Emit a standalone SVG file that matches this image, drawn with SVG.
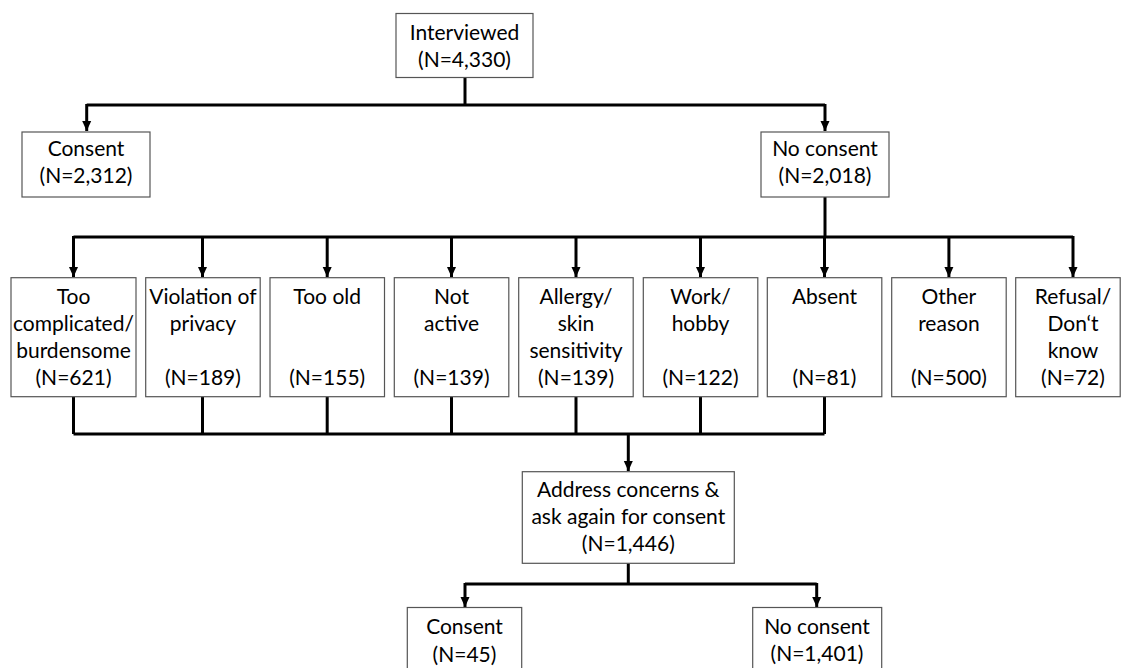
<svg xmlns="http://www.w3.org/2000/svg" width="1121" height="668" viewBox="0 0 1121 668">
<style>
.box{fill:#fff;stroke:#555;stroke-width:1.2}
.t{font-family:Lato,"Liberation Sans",sans-serif;font-size:21px;fill:#000;text-anchor:middle}
.c{fill:none;stroke:#000;stroke-width:3;stroke-linejoin:miter}
</style>
<defs>
<marker id="ah" markerUnits="userSpaceOnUse" markerWidth="10" markerHeight="10" viewBox="0 0 10 10" refX="10" refY="5" orient="auto">
<path d="M0,0.5 L10,5 L0,9.5 Z" fill="#000"/>
</marker>
</defs>
<rect width="1121" height="668" fill="#fff"/>
<g id="connectors">
<path class="c" d="M465,78 V105"/>
<path class="c" d="M86.7,105 H825"/>
<path class="c" d="M86.7,104 V131" marker-end="url(#ah)"/>
<path class="c" d="M825,104 V131" marker-end="url(#ah)"/>
<path class="c" d="M825,197 V237"/>
<path class="c" d="M73.5,237 H1073"/>
<path class="c" d="M73.5,236 V277" marker-end="url(#ah)"/>
<path class="c" d="M202.5,236 V277" marker-end="url(#ah)"/>
<path class="c" d="M327.2,236 V277" marker-end="url(#ah)"/>
<path class="c" d="M451.5,236 V277" marker-end="url(#ah)"/>
<path class="c" d="M576,236 V277" marker-end="url(#ah)"/>
<path class="c" d="M700.5,236 V277" marker-end="url(#ah)"/>
<path class="c" d="M824.5,236 V277" marker-end="url(#ah)"/>
<path class="c" d="M948.9,236 V277" marker-end="url(#ah)"/>
<path class="c" d="M1073,236 V277" marker-end="url(#ah)"/>
<path class="c" d="M73.5,397 V434 M202.5,397 V434 M327.2,397 V434 M451.5,397 V434 M576,397 V434 M700.5,397 V434 M824.5,397 V434"/>
<path class="c" d="M73.5,434 H824.5"/>
<path class="c" d="M628.3,433 V471" marker-end="url(#ah)"/>
<path class="c" d="M628.3,563 V584"/>
<path class="c" d="M465,584 H816.7"/>
<path class="c" d="M465,583 V607" marker-end="url(#ah)"/>
<path class="c" d="M816.7,583 V607" marker-end="url(#ah)"/>
</g>
<g id="interviewed"><rect class="box" x="396" y="13.5" width="137" height="64"/><text class="t" x="464.5" y="39.5">Interviewed</text><text class="t" x="464.5" y="66.5">(N=4,330)</text></g>
<g id="consent1"><rect class="box" x="22" y="132" width="128" height="65"/><text class="t" x="86" y="156">Consent</text><text class="t" x="86" y="183">(N=2,312)</text></g>
<g id="noconsent1"><rect class="box" x="761" y="132" width="128" height="65"/><text class="t" x="825" y="156">No consent</text><text class="t" x="825" y="183">(N=2,018)</text></g>
<g id="r1"><rect class="box" x="11" y="277.7" width="125" height="119"/><text class="t" x="73.5" y="304">Too</text><text class="t" x="73.5" y="331">complicated/</text><text class="t" x="73.5" y="358">burdensome</text><text class="t" x="73.5" y="385">(N=621)</text></g>
<g id="r2"><rect class="box" x="145.7" y="277.7" width="114.5" height="119"/><text class="t" x="202.9" y="304">Violation of</text><text class="t" x="202.9" y="331">privacy</text><text class="t" x="202.9" y="385">(N=189)</text></g>
<g id="r3"><rect class="box" x="270" y="277.7" width="114.5" height="119"/><text class="t" x="327.2" y="304">Too old</text><text class="t" x="327.2" y="385">(N=155)</text></g>
<g id="r4"><rect class="box" x="394.3" y="277.7" width="114.5" height="119"/><text class="t" x="451.5" y="304">Not</text><text class="t" x="451.5" y="331">active</text><text class="t" x="451.5" y="385">(N=139)</text></g>
<g id="r5"><rect class="box" x="518.7" y="277.7" width="114.5" height="119"/><text class="t" x="576" y="304">Allergy/</text><text class="t" x="576" y="331">skin</text><text class="t" x="576" y="358">sensitivity</text><text class="t" x="576" y="385">(N=139)</text></g>
<g id="r6"><rect class="box" x="643.3" y="277.7" width="114.5" height="119"/><text class="t" x="700.5" y="304">Work/</text><text class="t" x="700.5" y="331">hobby</text><text class="t" x="700.5" y="385">(N=122)</text></g>
<g id="r7"><rect class="box" x="767.3" y="277.7" width="114.5" height="119"/><text class="t" x="824.5" y="304">Absent</text><text class="t" x="824.5" y="385">(N=81)</text></g>
<g id="r8"><rect class="box" x="891.7" y="277.7" width="114.5" height="119"/><text class="t" x="948.9" y="304">Other</text><text class="t" x="948.9" y="331">reason</text><text class="t" x="948.9" y="385">(N=500)</text></g>
<g id="r9"><rect class="box" x="1015.7" y="277.7" width="104.5" height="119"/><text class="t" x="1073" y="304">Refusal/</text><text class="t" x="1073" y="331">Don‘t</text><text class="t" x="1073" y="358">know</text><text class="t" x="1073" y="385">(N=72)</text></g>
<g id="address"><rect class="box" x="522.3" y="471.7" width="212" height="91.6"/><text class="t" x="628.3" y="497">Address concerns &amp;</text><text class="t" x="628.3" y="524.3">ask again for consent</text><text class="t" x="628.3" y="551">(N=1,446)</text></g>
<g id="consent2"><rect class="box" x="407.3" y="607.5" width="114.4" height="70"/><text class="t" x="464.5" y="634">Consent</text><text class="t" x="464.5" y="661.5">(N=45)</text></g>
<g id="noconsent2"><rect class="box" x="752.7" y="607.5" width="129" height="70"/><text class="t" x="817" y="633.5">No consent</text><text class="t" x="817" y="660.5">(N=1,401)</text></g>
</svg>
